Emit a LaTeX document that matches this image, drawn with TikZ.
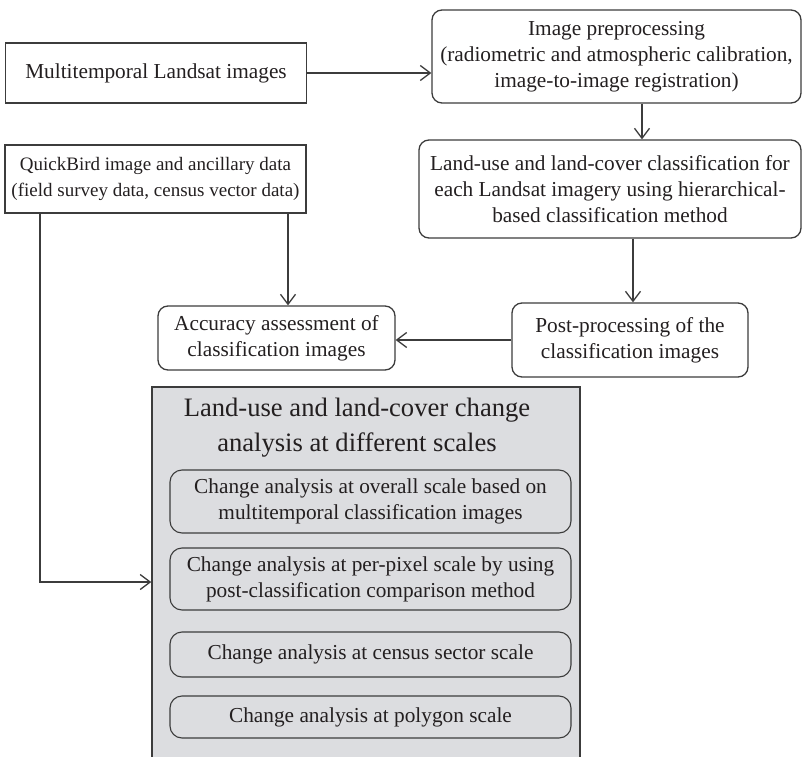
\documentclass[tikz,border=0pt]{standalone}
\usepackage{fontspec}
\setmainfont{Liberation Serif}
\usetikzlibrary{arrows.meta}
\definecolor{ln}{HTML}{3C3C3C}
\definecolor{tx}{HTML}{231F20}
\definecolor{gfill}{HTML}{DCDDE0}
\begin{document}
\begin{tikzpicture}[x=1pt,y=-1pt,
  box/.style={draw=ln, line width=1.3pt, text=tx, align=center, inner sep=0pt,
    font=\fontsize{21.3}{26}\selectfont},
  rbox/.style={box, rounded corners=10pt},
  ibox/.style={box, line width=1.1pt, rounded corners=12pt, minimum width=401pt},
  arr/.style={draw=ln, line width=1.3pt, -{Straight Barb[length=10pt,width=15pt]}}]
\useasboundingbox (0,0) rectangle (806,757);
\clip (0,0) rectangle (806,757);

% top row
\node[box, minimum width=301pt, minimum height=60pt] (mt) at (156,73) {Multitemporal Landsat images};
\node[rbox, minimum width=369pt, minimum height=93pt] (pre) at (616.5,56.5)
  {Image preprocessing\\(radiometric and atmospheric calibration,\\image-to-image registration)};
\node[rbox, minimum width=382pt, minimum height=98pt] (cls) at (610,189)
  {Land-use and land-cover classification for\\each Landsat imagery using hierarchical-\\based classification method};
\node[box, minimum width=301pt, minimum height=68pt, font=\fontsize{19}{26}\selectfont] (qb) at (155.5,179)
  {QuickBird image and ancillary data\\(field survey data, census vector data)};
\node[rbox, minimum width=237pt, minimum height=64pt] (acc) at (276.5,338)
  {Accuracy assessment of\\classification images};
\node[rbox, minimum width=236pt, minimum height=74pt] (post) at (630,340)
  {Post-processing of the\\classification images};

% gray container (runs off the bottom edge)
\node[draw=ln, line width=1.5pt, fill=gfill, minimum width=428pt, minimum height=413pt, inner sep=0pt] (grp) at (366,593.5) {};
\node[text=tx, align=center, inner sep=0pt, font=\fontsize{26.6}{35}\selectfont] (title) at (357,428)
  {Land-use and land-cover change\\analysis at different scales};
\node[ibox, minimum height=63pt] (s1) at (370.5,501.5)
  {Change analysis at overall scale based on\\multitemporal classification images};
\node[ibox, minimum height=62pt] (s2) at (370.5,579)
  {Change analysis at per-pixel scale by using\\post-classification comparison method};
\node[ibox, minimum height=45pt] (s3) at (370.5,654.5)
  {Change analysis at census sector scale};
\node[ibox, minimum height=42pt] (s4) at (370.5,717)
  {Change analysis at polygon scale};

% connectors
\coordinate (xa) at (642,0);
\coordinate (xb) at (633,0);
\coordinate (xc) at (288,0);
\coordinate (q) at (40,582);
\draw[arr] (mt.east) -- (mt.east -| pre.west);
\draw[arr] (xa |- pre.south) -- (xa |- cls.north);
\draw[arr] (xb |- cls.south) -- (xb |- post.north);
\draw[arr] (post.west) -- (post.west -| acc.east);
\draw[arr] (xc |- qb.south) -- (xc |- acc.north);
\draw[arr] (qb.south -| q) |- (grp.west |- q);
\end{tikzpicture}
\end{document}
